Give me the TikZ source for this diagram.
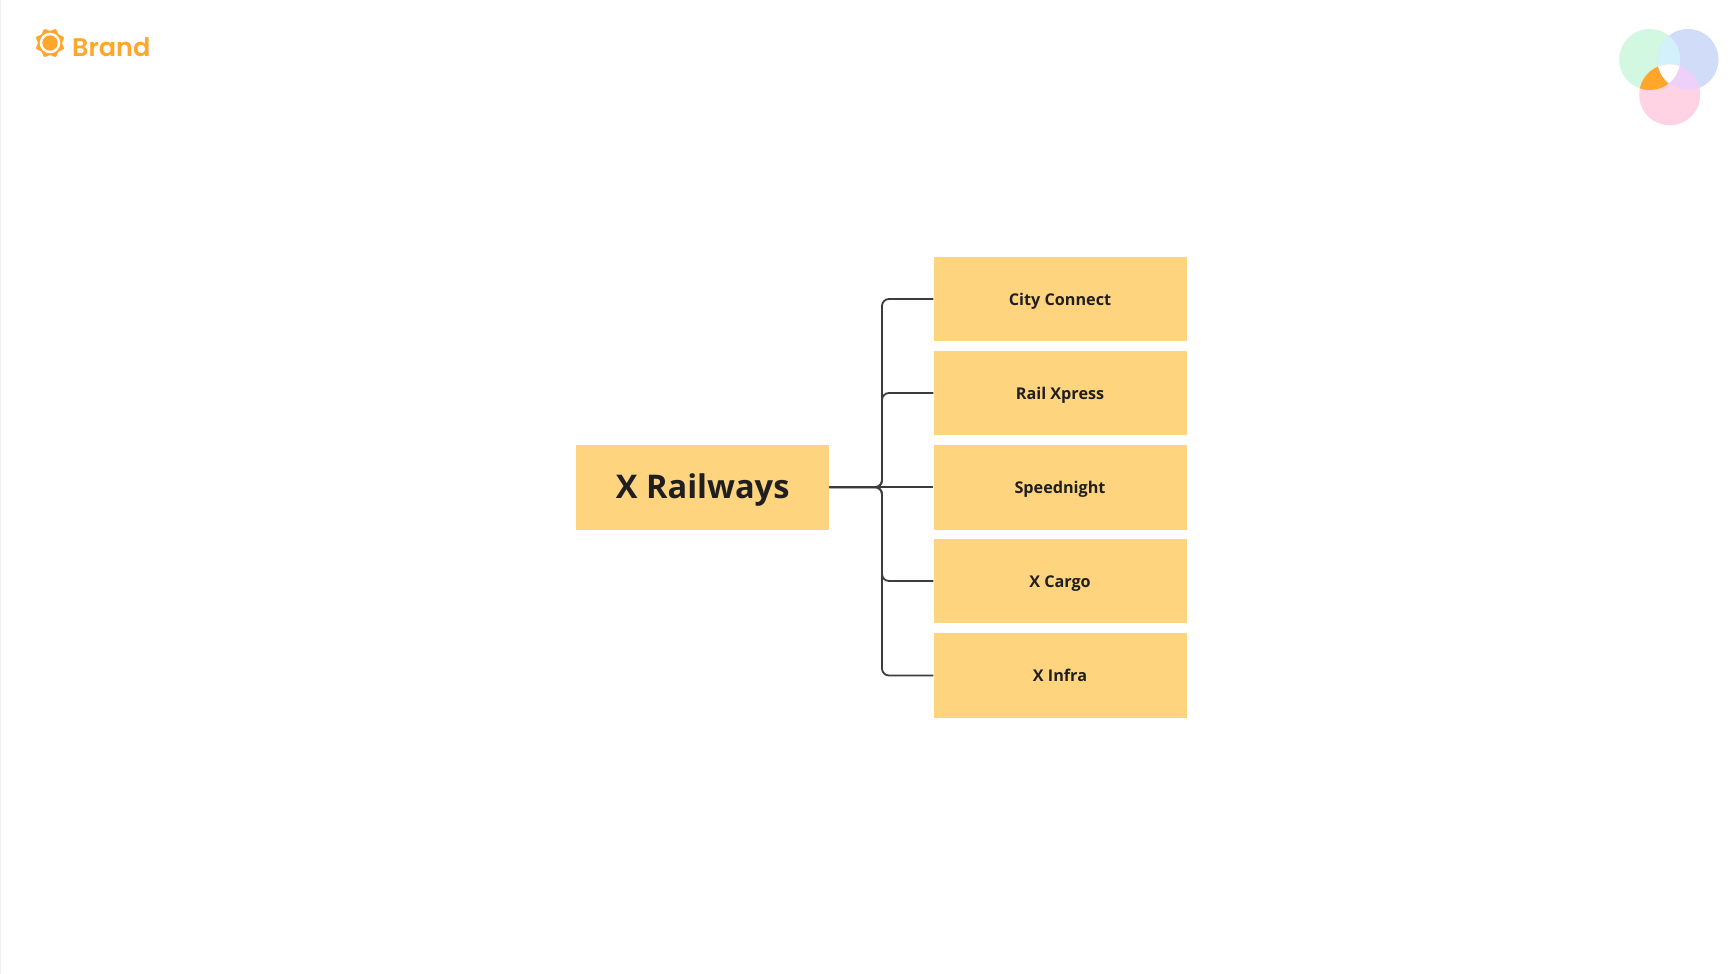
\documentclass[tikz,border=0pt]{standalone}
\usepackage{fontspec}
\setmainfont{Open Sans}
\newfontfamily\brandfont[UprightFont=* SemiBold]{Poppins}
\definecolor{boxfill}{HTML}{FFD47F}
\definecolor{inktext}{HTML}{1F1F1F}
\definecolor{wire}{HTML}{3C3C3C}
\definecolor{brandor}{HTML}{FFA62B}
\definecolor{vgreen}{HTML}{D3F8E2}
\definecolor{vblue}{HTML}{D0DCF8}
\definecolor{vpink}{HTML}{FFD3E4}
\definecolor{vgb}{HTML}{D2F1FB}
\definecolor{vbp}{HTML}{EDD1FB}
\tikzset{
  box/.style={fill=boxfill,draw=none,inner sep=0pt,minimum width=253pt,minimum height=84.6pt,text height=12pt,text depth=0pt,text=inktext,font=\bfseries\fontsize{16.2}{20}\selectfont},
  rootbox/.style={box,text height=22.6pt,font=\bfseries\fontsize{32.6}{38}\selectfont},
  wirepath/.style={draw=wire,line width=1.8pt,rounded corners=7pt},
}
\begin{document}
\begin{tikzpicture}[x=1pt,y=-1pt]
\useasboundingbox (0,0) rectangle (1733,974);
\fill[white] (0,0) rectangle (1733,974);
\fill[black!6] (0,0) rectangle (1,974);
% brand
\fill[brandor,rounded corners=1pt] ({50+15.5*cos(22.5)},{43+15.5*sin(22.5)})
  \foreach \a in {22.5,67.5,...,337.5} {
    -- ({50+12*cos(\a+22.5)},{43+12*sin(\a+22.5)}) -- ({50+15.5*cos(\a+45)},{43+15.5*sin(\a+45)})
  } -- cycle;
\fill[white] (50,43) circle (10.3);
\fill[brandor] (50,43) circle (7.7);
\node[anchor=base west,inner sep=0pt,text=brandor,font=\brandfont\fontsize{25.5}{32}\selectfont] (brand) at (72,56.5) {Brand};
% venn
\fill[vgreen] (1649.7,59.5) circle (30.5);
\fill[vblue] (1688,59.5) circle (30.5);
\fill[vpink] (1669.7,94.8) circle (30.5);
\begin{scope}
  \clip (1649.7,59.5) circle (30.5);
  \fill[vgb] (1688,59.5) circle (30.5);
  \fill[brandor] (1669.7,94.8) circle (30.5);
  \clip (1688,59.5) circle (30.5);
  \fill[white] (1669.7,94.8) circle (30.5);
\end{scope}
\begin{scope}
  \clip (1688,59.5) circle (30.5);
  \clip (1669.7,94.8) circle (30.5);
  \fill[vbp] (1600,0) rectangle (1733,140);
  \clip (1649.7,59.5) circle (30.5);
  \fill[white] (1600,0) rectangle (1733,140);
\end{scope}
% boxes
\node[rootbox] (root) at (702.7,487.2) {X Railways};
\node[box] (a) at (1060,299) {City Connect};
\node[box] (b) at (1060,393) {Rail Xpress};
\node[box] (c) at (1060,487.2) {Speednight};
\node[box] (d) at (1060,581) {X Cargo};
\node[box] (e) at (1060,675.5) {X Infra};
\coordinate (hub) at (882,487.2);
\draw[wirepath] (root.east) -- (hub) |- (a.west);
\draw[wirepath] (root.east) -- (hub) |- (b.west);
\draw[wirepath] (root.east) -- (c.west);
\draw[wirepath] (root.east) -- (hub) |- (d.west);
\draw[wirepath] (root.east) -- (hub) |- (e.west);
\end{tikzpicture}
\end{document}
